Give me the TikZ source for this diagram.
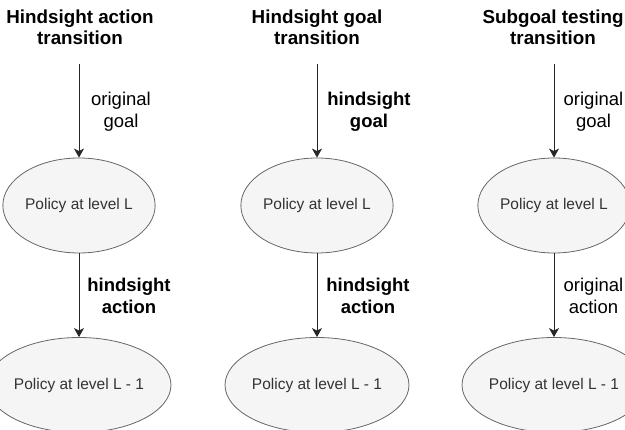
\documentclass[tikz,border=0pt]{standalone}
\usepackage{fontspec}
\setmainfont{Liberation Sans}
\usetikzlibrary{shapes.geometric,arrows.meta}
\definecolor{policyfill}{HTML}{F5F5F5}
\definecolor{policyline}{HTML}{666666}
\definecolor{policytext}{HTML}{333333}
\begin{document}
\begin{tikzpicture}[x=1pt,y=-1pt,
  policy/.style={ellipse, draw=policyline, fill=policyfill, line width=0.8pt,
    minimum width=144pt, minimum height=95pt, inner sep=0pt, text=policytext,
    font=\fontsize{15.5}{18}\selectfont},
  heading/.style={align=center, inner sep=0pt, font=\bfseries\fontsize{18.8}{20.5}\selectfont},
  edgelabel/.style={align=center, inner sep=0pt, font=\fontsize{18.5}{22}\selectfont},
  edgelabelbold/.style={align=center, inner sep=0pt, font=\bfseries\fontsize{18.5}{22}\selectfont},
  flow/.style={draw=black!85, line width=1pt, -{Stealth[length=9pt,width=10pt,inset=2.5pt]}}
]
\useasboundingbox (0,0) rectangle (625,430);
\clip (0,0) rectangle (625,430);

% column headings
\node[heading] (h1) at (80,27.5) {Hindsight action\\transition};
\node[heading] (h2) at (317,27.5) {Hindsight goal\\transition};
\node[heading] (h3) at (553,27.5) {Subgoal testing\\transition};

% policies at level L
\node[policy] (p1) at (79,205.5) {Policy at level L};
\node[policy] (p2) at (317,205.5) {Policy at level L};
\node[policy] (p3) at (554,205.5) {Policy at level L};

% policies at level L - 1
\node[policy] (q1) at (79,385) {Policy at level L - 1};
\node[policy] (q2) at (317,385) {Policy at level L - 1};
\node[policy] (q3) at (554,385) {Policy at level L - 1};

% incoming goal arrows
\coordinate (s1) at (79,64);
\coordinate (s2) at (317,64);
\coordinate (s3) at (554,64);
\draw[flow] (s1) -- (p1);
\draw[flow] (s2) -- (p2);
\draw[flow] (s3) -- (p3);

% action arrows between levels
\draw[flow] (p1) -- (q1);
\draw[flow] (p2) -- (q2);
\draw[flow] (p3) -- (q3);

% goal labels
\node[edgelabel] (g1) at (121,112.2) {original\\goal};
\node[edgelabelbold] (g2) at (369,112.2) {hindsight\\goal};
\node[edgelabel] (g3) at (593.5,112.2) {original\\goal};

% action labels
\node[edgelabelbold] (a1) at (129,295.8) {hindsight\\action};
\node[edgelabelbold] (a2) at (368,295.8) {hindsight\\action};
\node[edgelabel] (a3) at (593.5,295.8) {original\\action};
\end{tikzpicture}
\end{document}
